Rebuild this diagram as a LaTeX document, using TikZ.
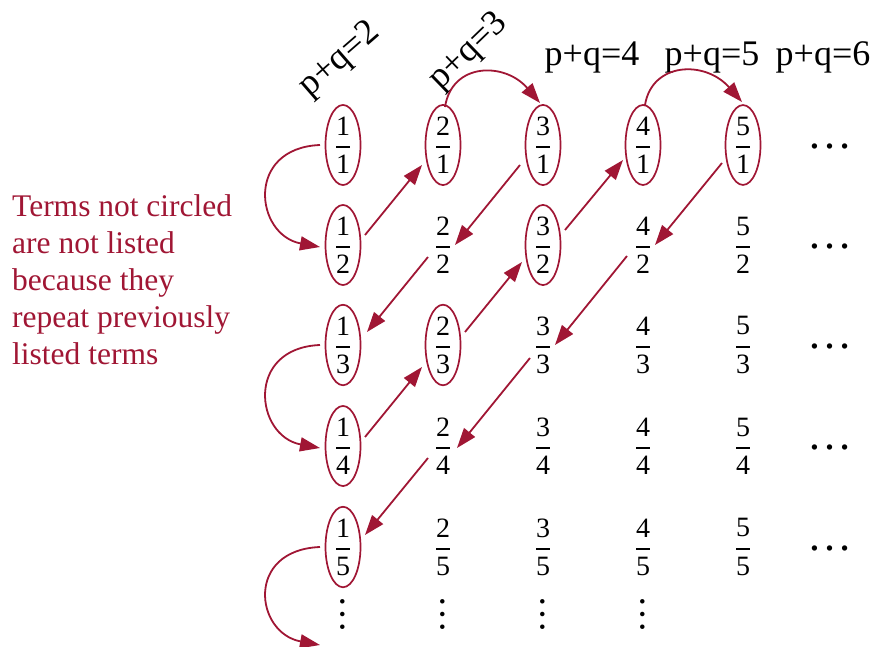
\documentclass[tikz,border=0pt]{standalone}
\usepackage{fix-cm}
\usepackage{amsmath}
\usepackage{fontspec}
\setmainfont{Liberation Serif}
\usetikzlibrary{arrows.meta,shapes.geometric}
\definecolor{cred}{RGB}{160,22,52}
\newcommand\fr[2]{$\displaystyle\genfrac{}{}{1.4pt}{0}{\mbox{#1}}{\mbox{#2}}$}
\begin{document}
\begin{tikzpicture}[x=1pt,y=-1pt,
  frac/.style={ellipse, inner sep=0pt, minimum width=35pt, minimum height=74pt, font=\fontsize{28}{32}\selectfont},
  circled/.style={frac, draw=cred, line width=1.7pt},
  arr/.style={cred, line width=1.8pt, -{Triangle[length=20pt,width=14pt]}},
  lab/.style={font=\fontsize{36}{40}\selectfont, inner sep=0pt},
  hdots/.style={font=\fontsize{45}{50}\selectfont, inner sep=0pt},
  vdots/.style={font=\fontsize{38}{44}\selectfont, inner sep=0pt, rotate=90}]
\useasboundingbox (0,0) rectangle (877,647);

% row 1
\node[circled] (n11) at (343,145) {\fr{1}{1}};
\node[circled] (n21) at (443,145) {\fr{2}{1}};
\node[circled] (n31) at (543,145) {\fr{3}{1}};
\node[circled] (n41) at (643,145) {\fr{4}{1}};
\node[circled] (n51) at (743,145) {\fr{5}{1}};
\node[hdots] (d1) at (830,146) {…};
% row 2
\node[circled] (n12) at (343,245) {\fr{1}{2}};
\node[frac] (n22) at (443,245) {\fr{2}{2}};
\node[circled] (n32) at (543,245) {\fr{3}{2}};
\node[frac] (n42) at (643,245) {\fr{4}{2}};
\node[frac] (n52) at (743,245) {\fr{5}{2}};
\node[hdots] (d2) at (830,246) {…};
% row 3
\node[circled] (n13) at (343,345) {\fr{1}{3}};
\node[circled] (n23) at (443,345) {\fr{2}{3}};
\node[frac] (n33) at (543,345) {\fr{3}{3}};
\node[frac] (n43) at (643,345) {\fr{4}{3}};
\node[frac] (n53) at (743,345) {\fr{5}{3}};
\node[hdots] (d3) at (830,346) {…};
% row 4
\node[circled] (n14) at (343,446) {\fr{1}{4}};
\node[frac] (n24) at (443,446) {\fr{2}{4}};
\node[frac] (n34) at (543,446) {\fr{3}{4}};
\node[frac] (n44) at (643,446) {\fr{4}{4}};
\node[frac] (n54) at (743,446) {\fr{5}{4}};
\node[hdots] (d4) at (830,447) {…};
% row 5
\node[circled] (n15) at (343,547) {\fr{1}{5}};
\node[frac] (n25) at (443,547) {\fr{2}{5}};
\node[frac] (n35) at (543,547) {\fr{3}{5}};
\node[frac] (n45) at (643,547) {\fr{4}{5}};
\node[frac] (n55) at (743,547) {\fr{5}{5}};
\node[hdots] (d5) at (830,548) {…};
% vertical dots
\node[vdots] (v1) at (343,614) {…};
\node[vdots] (v2) at (443,614) {…};
\node[vdots] (v3) at (543,614) {…};
\node[vdots] (v4) at (643,614) {…};

% labels
\node[lab, rotate=41] (l2) at (340,60) {p+q=2};
\node[lab, rotate=44] (l3) at (469,52) {p+q=3};
\node[lab, anchor=base] (l4) at (592,66) {p+q=4};
\node[lab, anchor=base] (l5) at (712,66) {p+q=5};
\node[lab, anchor=base] (l6) at (823,66) {p+q=6};

\node[text=cred, font=\fontsize{31.5}{37}\selectfont, align=left, anchor=north west, inner sep=0pt] (note) at (12,194)
  {Terms not circled\\are not listed\\because they\\repeat previously\\listed terms};

\coordinate (bot) at (320,645);

% arrows
\draw[arr] ([shift={(-23,0)}]n11.center) .. controls +(-75,3) and +(-65,-12) .. ([shift={(-23,2)}]n12.center);
\draw[arr] ([shift={(22,-10)}]n12.center) -- ([shift={(-21,20)}]n21.center);
\draw[arr] ([shift={(2,-38)}]n21.center) .. controls +(7,-45) and +(-35,-41) .. ([shift={(-3,-42)}]n31.center);
\draw[arr] ([shift={(-23,20)}]n31.center) -- ([shift={(12,0)}]n22.center);
\draw[arr] ([shift={(-15,12)}]n22.center) -- ([shift={(24,-13)}]n13.center);
\draw[arr] ([shift={(-23,0)}]n13.center) .. controls +(-75,3) and +(-65,-12) .. ([shift={(-23,2)}]n14.center);
\draw[arr] ([shift={(22,-9)}]n14.center) -- ([shift={(-21,22)}]n23.center);
\draw[arr] ([shift={(22,-13)}]n23.center) -- ([shift={(-21,17)}]n32.center);
\draw[arr] ([shift={(22,-15)}]n32.center) -- ([shift={(-20,15)}]n41.center);
\draw[arr] ([shift={(2,-40)}]n41.center) .. controls +(7,-43) and +(-37,-42) .. ([shift={(-1,-43)}]n51.center);
\draw[arr] ([shift={(-21,18)}]n51.center) -- ([shift={(12,0)}]n42.center);
\draw[arr] ([shift={(-16,11)}]n42.center) -- ([shift={(12,0)}]n33.center);
\draw[arr] ([shift={(-13,13)}]n33.center) -- ([shift={(14,2)}]n24.center);
\draw[arr] ([shift={(-15,12)}]n24.center) -- ([shift={(22,-12)}]n15.center);
\draw[arr] ([shift={(-23,0)}]n15.center) .. controls +(-75,3) and +(-65,-12) .. (bot);
\end{tikzpicture}
\end{document}
